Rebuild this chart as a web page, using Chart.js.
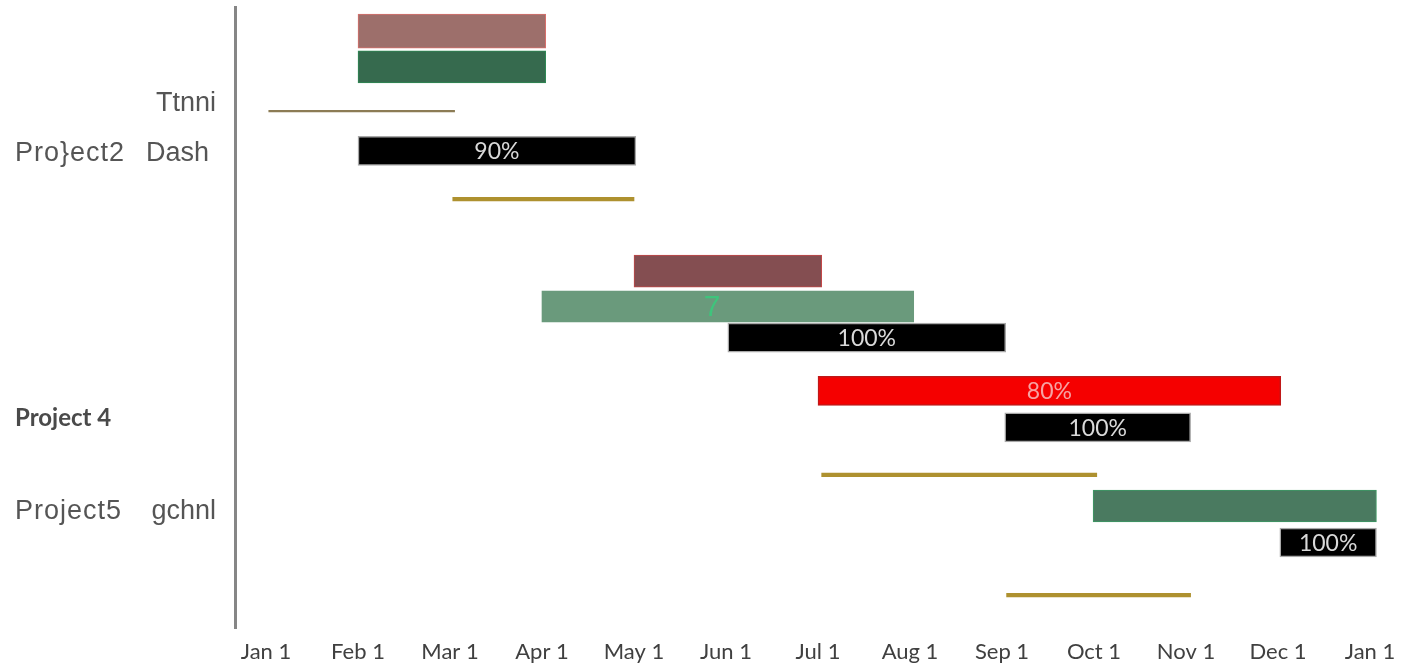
<!DOCTYPE html>
<html>
<head>
<meta charset="utf-8">
<title>Project timeline</title>
<script src="https://cdn.jsdelivr.net/npm/chart.js@4.4.1/dist/chart.umd.min.js"></script>
<style>
  html, body { margin: 0; padding: 0; background: #fff; }
  #wrap { position: relative; width: 1402px; height: 666px; }
</style>
</head>
<body>
<div id="wrap"><canvas id="gantt"></canvas></div>
<script>
/* ---------- data (months from Jan 1, lanes top → bottom) ---------- */
const months = ['Jan 1', 'Feb 1', 'Mar 1', 'Apr 1', 'May 1', 'Jun 1', 'Jul 1',
                'Aug 1', 'Sep 1', 'Oct 1', 'Nov 1', 'Dec 1', 'Jan 1'];

const taskStart = [1.0, 1.0, 0.03, 1.0, 2.03, 4.0, 3.0, 5.02, 6.0, 8.03, 6.04, 8.99, 11.02, 8.05];
const taskEnd   = [3.04, 3.04, 2.05, 4.02, 4.0, 6.04, 7.04, 8.04, 11.03, 10.05, 9.03, 12.07, 12.07, 10.05];
const taskLane  = [0.66, 1.64, 2.85, 3.94, 5.26, 7.23, 8.2, 9.05, 10.51, 11.51, 12.81, 13.66, 14.66, 16.1];
const taskText  = ['', '', '', '90%', '', '', '7', '100%', '80%', '100%', '', '', '100%', ''];
const taskTextAt = [null, null, null, null, null, null, 4.85, null, null, null, null, null, null, null];
const taskKind  = ['rose', 'forest', 'thin', 'black', 'gold', 'maroon', 'sage', 'black',
                   'red', 'black', 'gold', 'green', 'black', 'gold'];

const rowLane = [2.65, 4.02, 11.25, 13.8];
const rowName = ['', 'Pro}ect2', 'Project 4', 'Project5'];
const rowSub  = ['Ttnni', 'Dash', '', 'gchnl'];

/* ---------- styles ---------- */
const kindStyle = {
  rose:   { fill: '#9d6f6b', border: '#d9706c', w: 1,   h: 34, text: '#fff' },
  forest: { fill: '#366a4e', border: '#2f8a55', w: 1,   h: 32, text: '#fff' },
  thin:   { fill: '#8c7c55', border: '#8c7c55', w: 0,   h: 1.5, text: '#fff' },
  black:  { fill: '#000000', border: '#a8a8a8', w: 1.5, h: 29, text: '#d9d9d9' },
  gold:   { fill: '#ae912f', border: '#ae912f', w: 0,   h: 3.5, text: '#fff' },
  maroon: { fill: '#844e51', border: '#c44848', w: 1,   h: 32, text: '#fff' },
  sage:   { fill: '#6a9a7c', border: '#6a9a7c', w: 0,   h: 31, text: '#3fc47c' },
  red:    { fill: '#f50000', border: '#c01818', w: 1.5, h: 29, text: '#f6a2a2' },
  green:  { fill: '#4a7a60', border: '#3d9a64', w: 1,   h: 32, text: '#fff' },
};

const datasets = taskStart.map((s, i) => {
  const st = kindStyle[taskKind[i]];
  return {
    label: taskText[i] || taskKind[i],
    data: [{ x: [s, taskEnd[i]], y: taskLane[i] }],
    backgroundColor: st.fill,
    borderColor: st.border,
    borderWidth: st.w,
    borderSkipped: false,
    barThickness: st.h,
  };
});

/* ---------- plugins: bar captions + row labels ---------- */
const barCaptions = {
  id: 'barCaptions',
  afterDatasetsDraw(chart) {
    const { ctx, scales: { x } } = chart;
    ctx.save();
    ctx.textAlign = 'center';
    ctx.textBaseline = 'middle';
    taskText.forEach((t, i) => {
      if (!t) return;
      const el = chart.getDatasetMeta(i).data[0];
      const st = kindStyle[taskKind[i]];
      const cx = taskTextAt[i] != null ? x.getPixelForValue(taskTextAt[i]) : (el.x + el.base) / 2;
      ctx.fillStyle = st.text;
      ctx.font = taskKind[i] === 'sage' ? '30px "Liberation Sans", sans-serif' : '23px Lato, sans-serif';
      ctx.fillText(t, cx, el.y + 1);
    });
    ctx.restore();
  }
};

const rowLabels = {
  id: 'rowLabels',
  afterDraw(chart) {
    const { ctx, scales: { y } } = chart;
    ctx.save();
    ctx.textBaseline = 'middle';
    rowLane.forEach((lane, i) => {
      const py = y.getPixelForValue(lane);
      if (rowName[i]) {
        ctx.textAlign = 'left';
        if (rowName[i] === 'Project 4') {
          ctx.letterSpacing = '0px';
          ctx.font = 'bold 24px Lato, sans-serif';
          ctx.fillStyle = '#4a4a4a';
        } else {
          ctx.letterSpacing = '1px';
          ctx.font = '27px "Liberation Sans", Arial, sans-serif';
          ctx.fillStyle = '#555';
        }
        ctx.fillText(rowName[i], 15, py);
      }
      if (rowSub[i]) {
        ctx.letterSpacing = '0px';
        ctx.textAlign = 'right';
        ctx.font = '27px "Liberation Sans", Arial, sans-serif';
        ctx.fillStyle = '#555';
        ctx.fillText(rowSub[i], rowSub[i] === 'Dash' ? 209 : 216, py);
      }
    });
    ctx.restore();
  }
};

new Chart(document.getElementById('gantt'), {
  type: 'bar',
  data: { datasets },
  plugins: [barCaptions, rowLabels],
  options: {
    indexAxis: 'y',
    responsive: true,
    maintainAspectRatio: false,
    animation: false,
    grouped: false,
    layout: { padding: { top: 7, right: 17, bottom: 0, left: 0 } },
    plugins: { legend: { display: false }, tooltip: { enabled: false } },
    scales: {
      x: {
        type: 'linear',
        min: -0.337,
        max: 12.163,
        grid: { display: false, drawTicks: false },
        border: { display: false },
        afterBuildTicks: s => { s.ticks = months.map((m, i) => ({ value: i })); },
        afterFit: s => { s.height = 38; s.paddingLeft = 0; s.paddingRight = 0; },
        ticks: {
          autoSkip: false,
          maxRotation: 0,
          padding: 11,
          color: '#404040',
          font: { family: 'Lato', size: 22 },
          callback: v => months[v],
        },
      },
      y: {
        type: 'linear',
        reverse: true,
        offset: false,
        min: 0,
        max: 17,
        grid: { display: false, drawTicks: false, offset: false },
        border: { display: true, color: '#868686', width: 3 },
        ticks: { display: false },
        afterFit: s => { s.width = 235; s.paddingTop = 0; s.paddingBottom = 0; },
      },
    },
  },
});
</script>
</body>
</html>
